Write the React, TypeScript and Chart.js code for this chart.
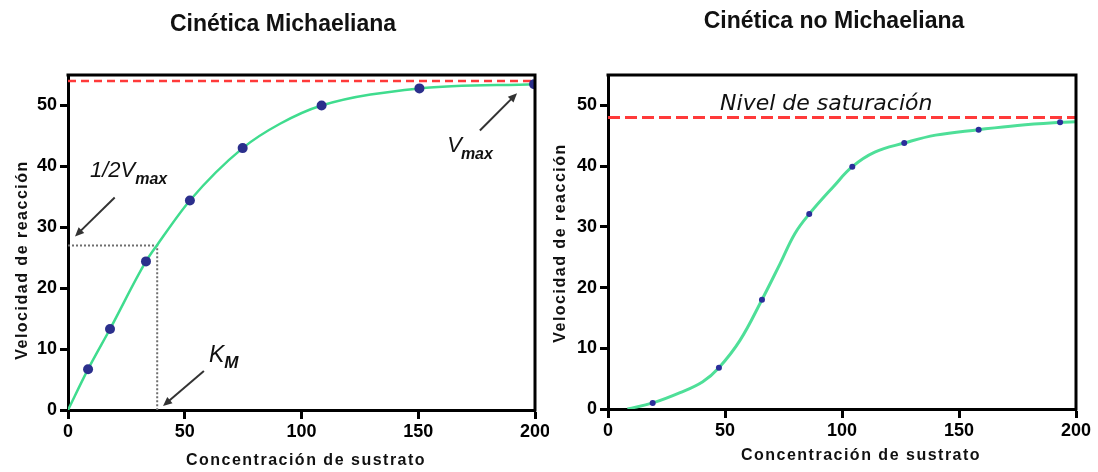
import React, { useEffect, useRef } from 'react';
import { Chart, registerables } from 'chart.js';

Chart.register(...registerables);

// ---- Cinética Michaeliana ----
const mmSubstrate = [8.6, 18, 33.4, 52.2, 74.8, 108.6, 150.5, 199.6];
const mmRate = [6.7, 13.3, 24.4, 34.4, 43.0, 50.0, 52.8, 53.5];
const mmCurveX = [0, 8.6, 18, 33.4, 38.2, 52.2, 74.8, 90.8, 108.6, 150.5, 200];
const mmCurveY = [0, 6.7, 13.3, 24.4, 27.1, 34.4, 43.0, 47.0, 50.0, 52.8, 53.5];
const vmax = 54;
const halfVmax = 27;
const km = 38.2;

// ---- Cinética no Michaeliana (sigmoide) ----
const nmSubstrate = [19.1, 47.4, 65.8, 86, 104.4, 126.6, 158.4, 193.2];
const nmRate = [1.0, 6.8, 18.0, 32.1, 39.9, 43.8, 46.0, 47.2];
const nmCurveX = [8.3, 19.1, 30.8, 40.5, 47.4, 56.4, 65.8, 73.5, 79.9, 86, 96.3, 104.4, 114, 126.6, 140, 158.4, 175, 193.2, 200];
const nmCurveY = [0, 1.0, 2.7, 4.5, 6.8, 11.3, 18.0, 23.9, 28.9, 32.1, 36.6, 39.9, 42.3, 43.8, 45.1, 46.0, 46.7, 47.2, 47.3];
const saturation = 48;

const xTicks = [0, 50, 100, 150, 200];
const yTicks = [0, 10, 20, 30, 40, 50];

const W = 549;
const H = 472;
const SANS = '"Liberation Sans", Arial, sans-serif';

const pts = (xs: number[], ys: number[]) => xs.map((x, i) => ({ x, y: ys[i] }));

type Layout = {
  title: string;
  titleX: number;
  titleY: number;
  yWidth: number;
  xHeight: number;
  padRight: number;
  yTitleX: number;
  yTitleY: number;
  xTitleX: number;
  xTitleY: number;
};

function drawArrow(ctx: CanvasRenderingContext2D, x1: number, y1: number, x2: number, y2: number) {
  const ang = Math.atan2(y2 - y1, x2 - x1);
  const head = 9;
  const half = 4;
  ctx.save();
  ctx.strokeStyle = '#333';
  ctx.fillStyle = '#333';
  ctx.lineWidth = 2;
  ctx.beginPath();
  ctx.moveTo(x1, y1);
  ctx.lineTo(x2 - Math.cos(ang) * head * 0.8, y2 - Math.sin(ang) * head * 0.8);
  ctx.stroke();
  ctx.beginPath();
  ctx.moveTo(x2, y2);
  ctx.lineTo(x2 - Math.cos(ang) * head - Math.sin(ang) * half, y2 - Math.sin(ang) * head + Math.cos(ang) * half);
  ctx.lineTo(x2 - Math.cos(ang) * head + Math.sin(ang) * half, y2 - Math.sin(ang) * head - Math.cos(ang) * half);
  ctx.closePath();
  ctx.fill();
  ctx.restore();
}

function drawSubscripted(
  ctx: CanvasRenderingContext2D,
  main: string,
  sub: string,
  x: number,
  y: number,
  mainFont: string,
  subFont: string,
  subDy: number,
  subDx: number
) {
  ctx.save();
  ctx.fillStyle = '#111';
  ctx.textAlign = 'left';
  ctx.textBaseline = 'alphabetic';
  ctx.font = mainFont;
  ctx.fillText(main, x, y);
  const w = ctx.measureText(main).width;
  ctx.font = subFont;
  ctx.fillText(sub, x + w + subDx, y + subDy);
  ctx.restore();
}

function makeOptions(L: Layout) {
  const tickFont = { family: SANS, size: 18, weight: 'bold' as const };
  return {
    responsive: false,
    animation: false as const,
    layout: { padding: { left: 0, right: L.padRight, top: 75, bottom: 0 } },
    plugins: { legend: { display: false }, tooltip: { enabled: false } },
    scales: {
      x: {
        type: 'linear' as const,
        min: 0,
        max: 200,
        afterBuildTicks: (s: any) => {
          s.ticks = xTicks.map((v) => ({ value: v }));
        },
        afterFit: (s: any) => {
          s.height = L.xHeight;
          s.paddingLeft = 0;
          s.paddingRight = 0;
        },
        grid: { drawOnChartArea: false, drawTicks: true, tickLength: 9, tickColor: '#000', tickWidth: 3 },
        border: { display: true, color: '#000', width: 3 },
        ticks: { color: '#000', font: tickFont, padding: 2, maxRotation: 0 },
      },
      y: {
        type: 'linear' as const,
        min: 0,
        max: 55,
        afterBuildTicks: (s: any) => {
          s.ticks = yTicks.map((v) => ({ value: v }));
        },
        afterFit: (s: any) => {
          s.width = L.yWidth;
          s.paddingTop = 0;
          s.paddingBottom = 0;
        },
        grid: { drawOnChartArea: false, drawTicks: true, tickLength: 8, tickColor: '#000', tickWidth: 3 },
        border: { display: true, color: '#000', width: 3 },
        ticks: { color: '#000', font: tickFont, padding: 3 },
      },
    },
  };
}

// Frame, titles and annotations drawn on top of the chart.
function makeDecor(L: Layout, annotate: (chart: any) => void) {
  return {
    id: 'decor',
    afterDatasetsDraw(chart: any) {
      const { ctx, chartArea: a } = chart;
      ctx.save();
      ctx.strokeStyle = '#000';
      ctx.lineWidth = 3;
      ctx.beginPath();
      ctx.moveTo(a.left - 1.5, a.top);
      ctx.lineTo(a.right, a.top);
      ctx.lineTo(a.right, a.bottom + 1.5);
      ctx.stroke();
      ctx.restore();
    },
    afterDraw(chart: any) {
      const { ctx } = chart;
      ctx.save();
      ctx.fillStyle = '#111';
      ctx.textAlign = 'center';
      ctx.textBaseline = 'alphabetic';
      ctx.font = `bold 23px ${SANS}`;
      ctx.fillText(L.title, L.titleX, L.titleY);

      ctx.font = `bold 16px ${SANS}`;
      (ctx as any).letterSpacing = '1.5px';
      ctx.fillText('Concentración de sustrato', L.xTitleX, L.xTitleY);
      ctx.translate(L.yTitleX, L.yTitleY);
      ctx.rotate(-Math.PI / 2);
      ctx.fillText('Velocidad de reacción', 0, 0);
      (ctx as any).letterSpacing = '0px';
      ctx.restore();

      annotate(chart);
    },
  };
}

function annotateMichaelis(chart: any) {
  const { ctx } = chart;
  const sx = chart.scales.x;
  const sy = chart.scales.y;
  const P = (x: number, y: number) => [sx.getPixelForValue(x), sy.getPixelForValue(y)] as const;
  const italic = `italic 22px ${SANS}`;
  const subBold = `italic bold 16px ${SANS}`;

  const [hx, hy] = P(9.4, 38.2);
  drawSubscripted(ctx, '1/2V', 'max', hx, hy, italic, subBold, 7, 0);
  const [a1x, a1y] = P(20, 34.9);
  const [b1x, b1y] = P(3, 28.5);
  drawArrow(ctx, a1x, a1y, b1x, b1y);

  const [vx, vy] = P(162.4, 42.4);
  drawSubscripted(ctx, 'V', 'max', vx, vy, italic, subBold, 7, -1);
  const [a2x, a2y] = P(176.4, 45.9);
  const [b2x, b2y] = P(192.3, 52);
  drawArrow(ctx, a2x, a2y, b2x, b2y);

  const [kx, ky] = P(60.4, 7.9);
  drawSubscripted(ctx, 'K', 'M', kx, ky, `italic 23px ${SANS}`, `italic bold 17px ${SANS}`, 6, 0);
  const [a3x, a3y] = P(58.2, 6.4);
  const [b3x, b3y] = P(40.7, 0.66);
  drawArrow(ctx, a3x, a3y, b3x, b3y);
}

function annotateSigmoid(chart: any) {
  const { ctx } = chart;
  const x = chart.scales.x.getPixelForValue(47.9);
  const y = chart.scales.y.getPixelForValue(49.3);
  ctx.save();
  ctx.fillStyle = '#111';
  ctx.textAlign = 'left';
  ctx.textBaseline = 'alphabetic';
  ctx.font = `italic 22px "DejaVu Sans", sans-serif`;
  ctx.fillText('Nivel de saturación', x, y);
  ctx.restore();
}

const leftLayout: Layout = {
  title: 'Cinética Michaeliana',
  titleX: 283,
  titleY: 31,
  yWidth: 68,
  xHeight: 62,
  padRight: 14,
  yTitleX: 27,
  yTitleY: 260,
  xTitleX: 306,
  xTitleY: 465,
};

const rightLayout: Layout = {
  title: 'Cinética no Michaeliana',
  titleX: 285,
  titleY: 28,
  yWidth: 59,
  xHeight: 63,
  padRight: 22,
  yTitleX: 16,
  yTitleY: 243,
  xTitleX: 312,
  xTitleY: 460,
};

export default function App() {
  const leftRef = useRef<HTMLCanvasElement>(null);
  const rightRef = useRef<HTMLCanvasElement>(null);

  useEffect(() => {
    document.body.style.margin = '0';

    const left = new Chart(leftRef.current as HTMLCanvasElement, {
      type: 'scatter',
      data: {
        datasets: [
          {
            data: pts(mmSubstrate, mmRate),
            pointRadius: 5,
            pointBackgroundColor: '#2B2F8C',
            pointBorderColor: '#2B2F8C',
            pointBorderWidth: 0,
            showLine: false,
          },
          {
            data: pts(mmCurveX, mmCurveY),
            showLine: true,
            pointRadius: 0,
            borderColor: '#3FDC8E',
            borderWidth: 2.5,
            cubicInterpolationMode: 'monotone',
          },
          {
            data: [
              { x: 0, y: halfVmax },
              { x: km, y: halfVmax },
              { x: km, y: 0 },
            ],
            showLine: true,
            pointRadius: 0,
            borderColor: '#6E6E6E',
            borderWidth: 2,
            borderDash: [2, 2],
          },
          {
            data: [
              { x: 0, y: vmax },
              { x: 200, y: vmax },
            ],
            showLine: true,
            pointRadius: 0,
            borderColor: '#FF3A3A',
            borderWidth: 2.5,
            borderDash: [8, 5],
          },
        ],
      } as any,
      options: makeOptions(leftLayout) as any,
      plugins: [makeDecor(leftLayout, annotateMichaelis)],
    });

    const right = new Chart(rightRef.current as HTMLCanvasElement, {
      type: 'scatter',
      data: {
        datasets: [
          {
            data: pts(nmSubstrate, nmRate),
            pointRadius: 3,
            pointBackgroundColor: '#2B2E9A',
            pointBorderColor: '#2B2E9A',
            pointBorderWidth: 0,
            showLine: false,
          },
          {
            data: pts(nmCurveX, nmCurveY),
            showLine: true,
            pointRadius: 0,
            borderColor: '#4EDF98',
            borderWidth: 3,
            tension: 0.4,
          },
          {
            data: [
              { x: 0, y: saturation },
              { x: 200, y: saturation },
            ],
            showLine: true,
            pointRadius: 0,
            borderColor: '#FF3A3A',
            borderWidth: 3,
            borderDash: [12, 5],
          },
        ],
      } as any,
      options: makeOptions(rightLayout) as any,
      plugins: [makeDecor(rightLayout, annotateSigmoid)],
    });

    return () => {
      left.destroy();
      right.destroy();
    };
  }, []);

  return (
    <div style={{ position: 'relative', width: 1098, height: H, background: '#fff', overflow: 'hidden' }}>
      <canvas ref={leftRef} width={W} height={H} style={{ position: 'absolute', left: 0, top: 0 }} />
      <canvas ref={rightRef} width={W} height={H} style={{ position: 'absolute', left: W, top: 0 }} />
    </div>
  );
}
